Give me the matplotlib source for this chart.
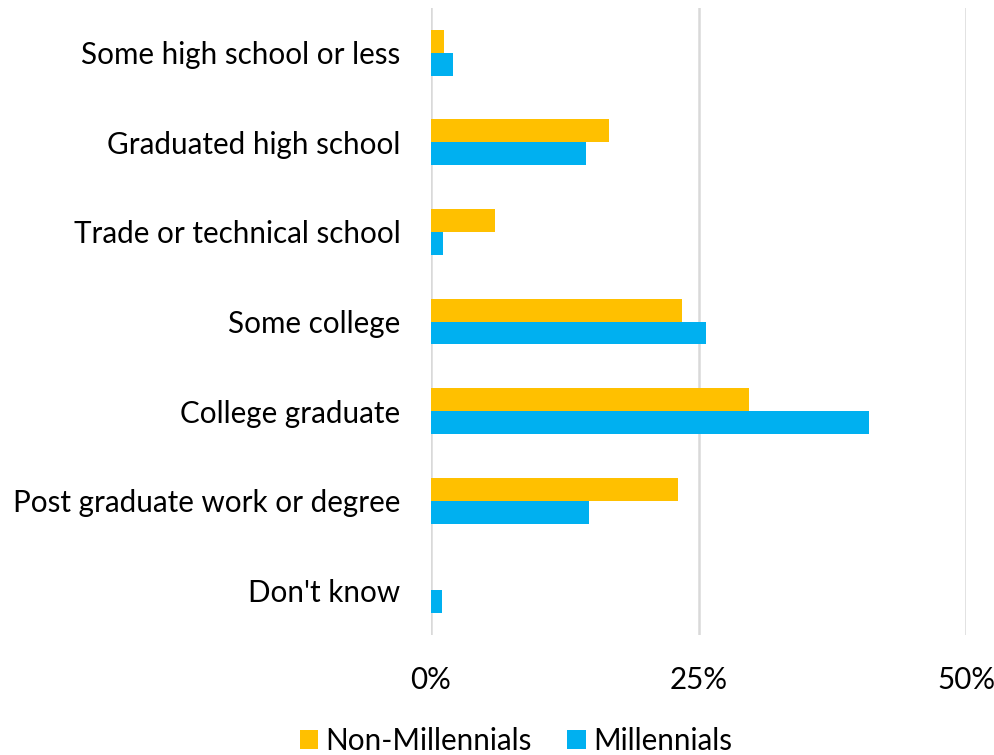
import matplotlib.pyplot as plt
import numpy as np

categories = ["Some high school or less", "Graduated high school", "Trade or technical school",
              "Some college", "College graduate", "Post graduate work or degree", "Don't know"]
non_millennials = [1.2, 16.6, 6.0, 23.5, 29.7, 23.1, 0.0]
millennials = [2.1, 14.5, 1.1, 25.7, 40.9, 14.8, 1.0]
xticks = [0, 25, 50]
xtick_labels = ["0%", "25%", "50%"]

plt.rcParams['font.family'] = ['Lato', 'DejaVu Sans']

fig = plt.figure(figsize=(9.95, 7.55), dpi=100)
ax = fig.add_axes([431/995, 1-635/755, (966-431)/995, (635-8)/755])

y = np.arange(len(categories))
h = 0.256
ax.barh(y - h/2, non_millennials, height=h, color='#FFC000', label='Non-Millennials', zorder=3)
ax.barh(y + h/2, millennials, height=h, color='#00B0F0', label='Millennials', zorder=3)

fs = 21.3
ax.set_ylim(len(categories) - 0.5, -0.5)
ax.set_xlim(0, 50)
ax.set_yticks(y)
ax.set_yticklabels(categories, fontsize=fs, color='#000000')
ax.set_xticks(xticks)
ax.set_xticklabels(xtick_labels, fontsize=fs, color='#000000')
ax.tick_params(axis='y', length=0, pad=22)
ax.tick_params(axis='x', length=0, pad=22)
for s in ax.spines.values():
    s.set_visible(False)
ax.xaxis.grid(True, color='#D9D9D9', linewidth=1.8, zorder=0)
ax.set_axisbelow(True)

handles, labels = ax.get_legend_handles_labels()
fig.legend(handles, labels, loc='center', bbox_to_anchor=(516/995, 1-741/755), ncol=2,
           frameon=False, fontsize=fs, handlelength=0.62, handleheight=0.62,
           handletextpad=0.25, columnspacing=1.2)

fig.savefig('out.png', dpi=100)
